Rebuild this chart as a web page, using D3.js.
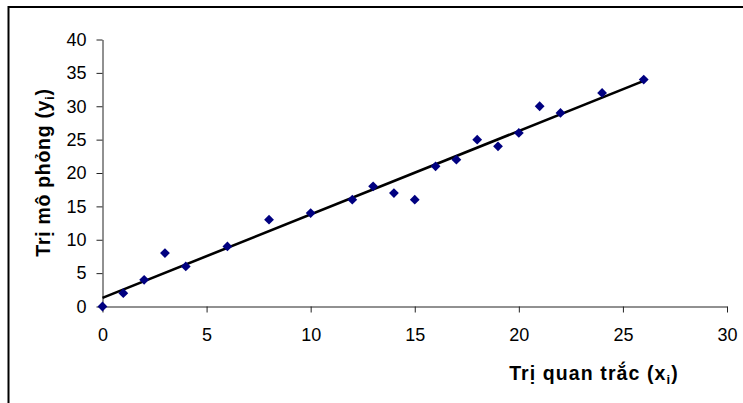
<!DOCTYPE html>
<html>
<head>
<meta charset="utf-8">
<script src="https://cdn.jsdelivr.net/npm/d3@7"></script>
<style>
html,body{margin:0;padding:0;background:#fff;}
svg{display:block;}
text{font-family:"Liberation Sans",Arial,sans-serif;}
</style>
</head>
<body>
<svg id="c" width="743" height="403"></svg>
<script>
// Data
const observed  = [0, 1, 2, 3, 4, 6, 8, 10, 12, 13, 14, 15, 16, 17, 18, 19, 20, 21, 22, 24, 26];
const simulated = [0, 2, 4, 8, 6, 9, 13, 14, 16, 18, 17, 16, 21, 22, 25, 24, 26, 30, 29, 32, 34];
const xTicks = [0, 5, 10, 15, 20, 25, 30];
const yTicks = [0, 5, 10, 15, 20, 25, 30, 35, 40];
const xTitle = "Trị quan trắc (x";
const yTitle = "Trị mô phỏng (y";

const svg = d3.select("#c");
const W = 743, H = 403;

// chart border (top + left visible)
svg.append("path")
  .attr("d", `M8.5,${H} L8.5,7 L${W},7`)
  .attr("fill", "none").attr("stroke", "#000").attr("stroke-width", 2);

const x = d3.scaleLinear().domain([0, 30]).range([102.5, 727]);
const y = d3.scaleLinear().domain([0, 40]).range([306.5, 39.5]);

// axes
const gx = svg.append("g").attr("transform", `translate(0,${y(0)})`)
  .call(d3.axisBottom(x).tickValues(xTicks).tickSize(6).tickSizeOuter(0).tickPadding(16).tickFormat(d3.format("d")));
const gy = svg.append("g").attr("transform", `translate(${x(0)},0)`)
  .call(d3.axisLeft(y).tickValues(yTicks).tickSize(6).tickSizeOuter(0).tickPadding(10).tickFormat(d3.format("d")));
[gx, gy].forEach(g => {
  g.select(".domain").attr("stroke", "#222").attr("stroke-width", 1);
  g.selectAll(".tick line").attr("stroke", "#222").attr("stroke-width", 1);
  g.selectAll(".tick text").attr("fill", "#000").style("font-size", "18px")
    .style("font-family", '"Liberation Sans",Arial,sans-serif');
});

// linear trend line (least squares)
const n = observed.length;
const mx = d3.mean(observed), my = d3.mean(simulated);
let sxy = 0, sxx = 0;
for (let i = 0; i < n; i++) { sxy += (observed[i]-mx)*(simulated[i]-my); sxx += (observed[i]-mx)**2; }
const slope = sxy / sxx, icpt = my - slope * mx;
const x0 = d3.min(observed), x1 = d3.max(observed);
svg.append("line")
  .attr("x1", x(x0)).attr("y1", y(icpt + slope * x0))
  .attr("x2", x(x1)).attr("y2", y(icpt + slope * x1))
  .attr("stroke", "#000").attr("stroke-width", 2.6);

// points
const sym = d3.symbol().type(d3.symbolSquare).size(48);
svg.append("g").selectAll("path").data(observed.map((v, i) => [v, simulated[i]]))
  .join("path")
  .attr("d", sym)
  .attr("transform", d => `translate(${x(d[0])},${y(d[1])}) rotate(45)`)
  .attr("fill", "#000080");

// titles
const tx = svg.append("text").attr("x", 594).attr("y", 380)
  .attr("text-anchor", "middle").style("font-size", "19.5px").style("font-weight", "bold")
  .style("letter-spacing", "1.1px");
tx.append("tspan").text(xTitle);
tx.append("tspan").attr("dy", 4).style("font-size", "13px").text("i");
tx.append("tspan").attr("dy", -4).text(")");

const ty = svg.append("text").attr("transform", "translate(49.5,172.5) rotate(-90)")
  .attr("text-anchor", "middle").style("font-size", "19.5px").style("font-weight", "bold")
  .style("letter-spacing", "0.7px");
ty.append("tspan").text(yTitle);
ty.append("tspan").attr("dy", 4).style("font-size", "13px").text("i");
ty.append("tspan").attr("dy", -4).text(")");
</script>
</body>
</html>
